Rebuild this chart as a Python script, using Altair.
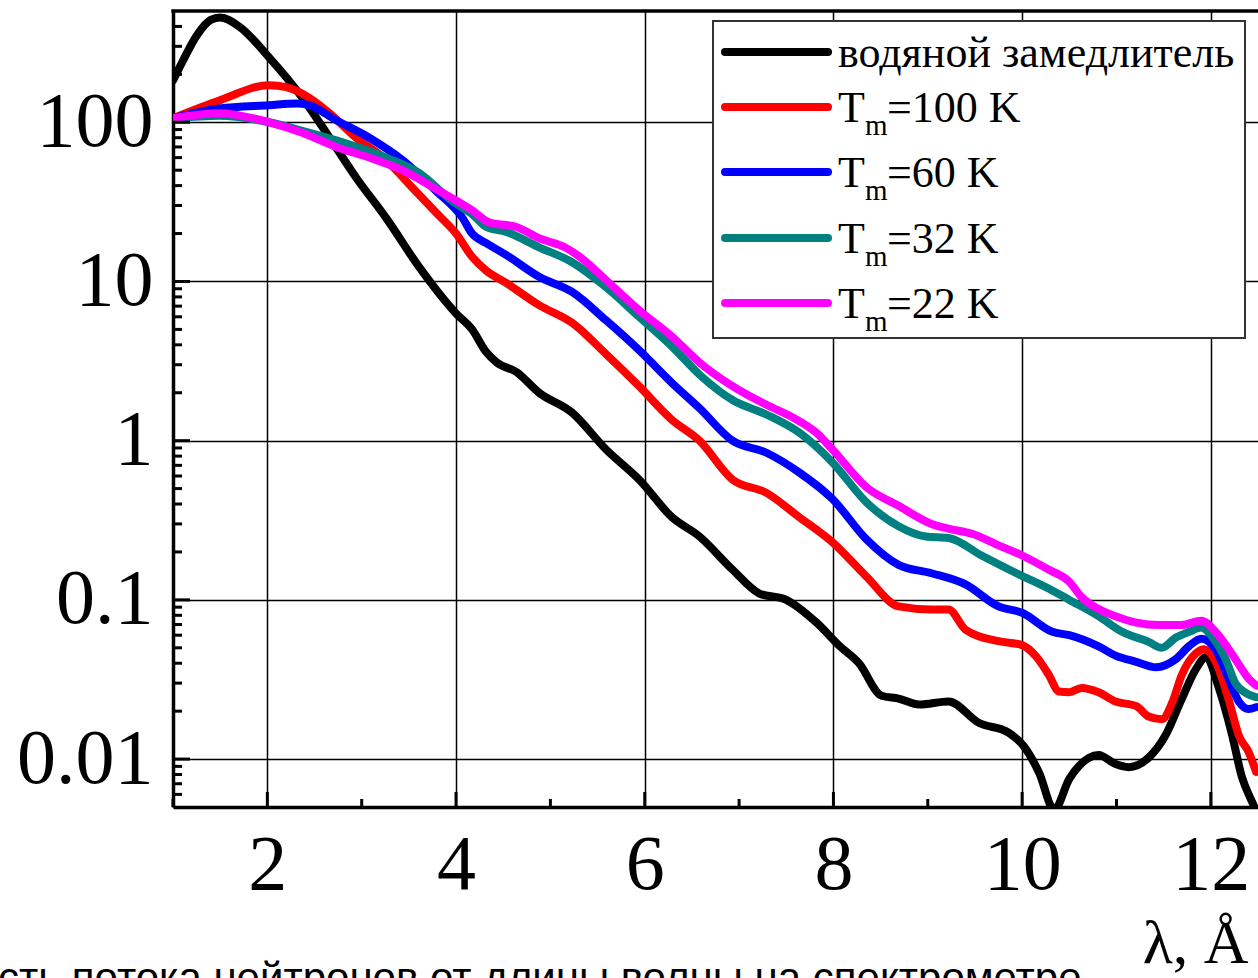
import altair as alt
import pandas as pd

# ---------------- data ----------------
series_names = ["водяной замедлитель", "Tm=100 K", "Tm=60 K", "Tm=32 K", "Tm=22 K"]
series_colors = ["#000000", "#ff0000", "#0000ff", "#008080", "#ff00ff"]

lam_water = [1.00, 1.10, 1.25, 1.40, 1.50, 1.70, 2.02, 2.37, 2.66, 2.94, 3.26, 3.61, 4.00, 4.17,
             4.32, 4.43, 4.64, 4.88, 5.23, 5.59, 5.94, 6.29, 6.58, 6.93, 7.21, 7.50, 7.82, 8.07,
             8.27, 8.51, 8.69, 8.91, 9.22, 9.54, 9.86, 10.02, 10.18, 10.34, 10.50, 10.71, 10.81,
             10.99, 11.13, 11.34, 11.52, 11.69, 11.84, 11.95, 12.08, 12.22, 12.33, 12.43, 12.50]
flux_water = [183, 240, 350, 440, 455, 400, 255, 143, 80, 45, 25, 12.3, 6.3, 5.0,
              3.6, 3.1, 2.7, 2.0, 1.5, 0.88, 0.57, 0.33, 0.25, 0.155, 0.11, 0.10, 0.072, 0.051,
              0.040, 0.025, 0.024, 0.022, 0.023, 0.0169, 0.0146, 0.012, 0.0082, 0.0048, 0.0075,
              0.0102, 0.0106, 0.0093, 0.0089, 0.0102, 0.0141, 0.0237, 0.0366, 0.0438, 0.0286,
              0.0146, 0.0077, 0.0055, 0.0045]

lam_100 = [1.00, 1.49, 2.02, 2.20, 2.44, 2.66, 2.94, 3.26, 3.50, 3.79, 4.00, 4.17, 4.32, 4.53,
           4.88, 5.23, 5.59, 5.94, 6.29, 6.58, 6.93, 7.29, 7.64, 7.99, 8.35, 8.69, 9.04, 9.22,
           9.40, 9.75, 10.00, 10.15, 10.28, 10.39, 10.50, 10.63, 10.81, 10.99, 11.21, 11.34,
           11.48, 11.59, 11.69, 11.84, 11.93, 12.05, 12.19, 12.30, 12.40, 12.48]
flux_100 = [106, 137, 171, 166, 143, 114, 80, 58, 41, 27, 20, 14.3, 11.7, 9.8,
            7.1, 5.5, 3.5, 2.2, 1.35, 1.0, 0.57, 0.47, 0.33, 0.23, 0.14, 0.091, 0.087, 0.087,
            0.065, 0.055, 0.052, 0.044, 0.034, 0.0266, 0.0263, 0.028, 0.0263, 0.023, 0.0215,
            0.0185, 0.0178, 0.0226, 0.0335, 0.046, 0.049, 0.041, 0.0235, 0.0139, 0.0111, 0.0083]

lam_60 = [1.00, 1.49, 2.02, 2.31, 2.44, 2.73, 3.08, 3.43, 3.79, 4.07, 4.17, 4.32, 4.53, 4.88,
          5.23, 5.59, 5.94, 6.29, 6.58, 6.93, 7.29, 7.64, 7.99, 8.35, 8.69, 9.04, 9.40, 9.75,
          10.00, 10.32, 10.50, 10.81, 10.99, 11.21, 11.42, 11.63, 11.77, 11.90, 12.05, 12.19,
          12.30, 12.40, 12.48]
flux_60 = [106, 122, 128, 131, 128, 103, 80, 58, 37, 25, 20, 17.4, 14.7, 10.7,
           8.6, 5.7, 3.7, 2.3, 1.6, 1.0, 0.84, 0.63, 0.43, 0.24, 0.166, 0.147, 0.125, 0.091,
           0.083, 0.063, 0.060, 0.051, 0.0447, 0.0408, 0.0377, 0.0425, 0.0513, 0.057, 0.049,
           0.0318, 0.0228, 0.0206, 0.0212]

lam_32 = [1.00, 1.49, 2.02, 2.44, 2.79, 3.26, 3.61, 3.96, 4.17, 4.32, 4.53, 4.88, 5.23, 5.59,
          5.94, 6.29, 6.58, 6.93, 7.29, 7.64, 7.99, 8.35, 8.69, 8.98, 9.22, 9.57, 9.93, 10.28,
          10.50, 10.81, 11.06, 11.34, 11.48, 11.63, 11.77, 11.90, 12.01, 12.16, 12.26, 12.37, 12.48]
flux_32 = [106, 110, 100, 86, 75, 60, 48, 32, 26.5, 22, 20.5, 16.4, 13.2, 9.2,
           6.0, 3.9, 2.6, 1.8, 1.46, 1.12, 0.73, 0.41, 0.29, 0.25, 0.245, 0.19, 0.148, 0.118,
           0.10, 0.079, 0.063, 0.0545, 0.050, 0.058, 0.063, 0.067, 0.059, 0.042, 0.030, 0.026, 0.0245]

lam_22 = [1.00, 1.49, 2.02, 2.37, 2.73, 3.08, 3.43, 3.79, 4.17, 4.35, 4.64, 4.88, 5.17, 5.31,
          5.59, 5.94, 6.29, 6.58, 6.93, 7.29, 7.56, 7.82, 7.99, 8.35, 8.69, 9.04, 9.22, 9.47,
          9.75, 10.00, 10.28, 10.50, 10.63, 10.81, 10.99, 11.21, 11.45, 11.69, 11.90, 12.05,
          12.19, 12.30, 12.40, 12.48]
flux_22 = [106, 114, 100, 86, 70, 60, 50, 38, 28, 23.5, 22, 18.7, 16.2, 14.3,
           10.2, 6.6, 4.5, 3.1, 2.2, 1.68, 1.41, 1.12, 0.88, 0.51, 0.39, 0.30, 0.28, 0.26,
           0.22, 0.19, 0.155, 0.13, 0.104, 0.0875, 0.079, 0.072, 0.0695, 0.0695, 0.074, 0.063,
           0.049, 0.039, 0.032, 0.029]

x_tick_labels = [2, 4, 6, 8, 10, 12]
x_minor_ticks = [1, 3, 5, 7, 9, 11]
y_tick_labels = [0.01, 0.1, 1, 10, 100]

legend_main = ["водяной замедлитель", "T", "T", "T", "T"]
legend_sub = ["", "m", "m", "m", "m"]
legend_rest = ["", "=100 K", "=60 K", "=32 K", "=22 K"]

x_title = "λ, Å"
caption = "сть потока нейтронов от длины волны на спектрометре"

# ---------------- layout / style ----------------
W, H = 1085, 796
SERIF = "Liberation Serif"
x_scale = alt.Scale(domain=[1, 12.5], nice=False, zero=False)
y_scale = alt.Scale(type="log", domain=[0.005, 500], nice=False)

y_minor_ticks = [k * d for d in [0.001, 0.01, 0.1, 1, 10, 100] for k in range(2, 10)
                 if 0.005 < k * d < 500]

x_axis = alt.Axis(values=x_tick_labels, format="d", labelFont=SERIF, labelFontSize=78,
                  labelColor="black", labelPadding=19, labelFlush=False, labelOverlap=False,
                  ticks=False, tickSize=0, domain=True, domainColor="black", domainWidth=3.5,
                  grid=True, gridColor="black", gridWidth=1.5, gridOpacity=1,
                  title=x_title, titleFont=SERIF, titleFontSize=62, titleFontWeight="normal",
                  titleColor="black", titleX=1075, titleY=155, titleAlign="right",
                  titleBaseline="alphabetic", titleAngle=0)
y_axis = alt.Axis(values=y_tick_labels, format="~g", labelFont=SERIF, labelFontSize=78,
                  labelColor="black", labelPadding=20, labelFlush=False, labelOverlap=False,
                  ticks=False, tickSize=0, domain=True, domainColor="black", domainWidth=3.5,
                  grid=True, gridColor="black", gridWidth=1.5, gridOpacity=1, title=None)

one = alt.Data(values=[{"a": 0}])

# axes + grid (drawn first, beneath the curves)
axes_layer = alt.Chart(pd.DataFrame({"lam": lam_water, "flux": flux_water})).mark_point(opacity=0).encode(
    x=alt.X("lam:Q", scale=x_scale, axis=x_axis),
    y=alt.Y("flux:Q", scale=y_scale, axis=y_axis),
)
layers = [axes_layer]


def curve(lams, vals, color):
    df = pd.DataFrame({"lam": lams, "flux": vals})
    return alt.Chart(df).mark_line(color=color, strokeWidth=8, clip=True,
                                   strokeJoin="round", strokeCap="round",
                                   interpolate="monotone").encode(
        x=alt.X("lam:Q", scale=x_scale, axis=None),
        y=alt.Y("flux:Q", scale=y_scale, axis=None),
    )


curves_data = [(lam_water, flux_water), (lam_100, flux_100), (lam_60, flux_60),
               (lam_32, flux_32), (lam_22, flux_22)]
for i, (lx, fy) in enumerate(curves_data):
    layers.append(curve(lx, fy, series_colors[i]))

# inward ticks
yt_major = alt.Chart(pd.DataFrame({"v": y_tick_labels})).mark_rule(color="black", strokeWidth=3).encode(
    y=alt.Y("v:Q", scale=y_scale, axis=None), x=alt.value(0), x2=alt.value(17))
yt_minor = alt.Chart(pd.DataFrame({"v": y_minor_ticks})).mark_rule(color="black", strokeWidth=3).encode(
    y=alt.Y("v:Q", scale=y_scale, axis=None), x=alt.value(0), x2=alt.value(9))
xt_major = alt.Chart(pd.DataFrame({"v": x_tick_labels})).mark_rule(color="black", strokeWidth=3).encode(
    x=alt.X("v:Q", scale=x_scale, axis=None), y=alt.value(H), y2=alt.value(H - 15))
xt_minor = alt.Chart(pd.DataFrame({"v": x_minor_ticks})).mark_rule(color="black", strokeWidth=3).encode(
    x=alt.X("v:Q", scale=x_scale, axis=None), y=alt.value(H), y2=alt.value(H - 8))
top_border = alt.Chart(one).mark_rule(color="black", strokeWidth=3.5).encode(
    x=alt.value(-1.75), x2=alt.value(W + 5), y=alt.value(0))
layers += [yt_major, yt_minor, xt_major, xt_minor, top_border]

# legend
layers.append(alt.Chart(one).mark_rect(fill="white", stroke="#333333", strokeWidth=2).encode(
    x=alt.value(540), x2=alt.value(1072), y=alt.value(10), y2=alt.value(327)))
line_y = [41, 96, 161, 227, 292]
for i in range(len(series_names)):
    layers.append(alt.Chart(one).mark_rule(color=series_colors[i], strokeWidth=8, strokeCap="round").encode(
        x=alt.value(552), x2=alt.value(655), y=alt.value(line_y[i])))
    base = line_y[i] + 15
    layers.append(alt.Chart(one).mark_text(text=legend_main[i], font=SERIF, fontSize=44, align="left",
                                           baseline="alphabetic", color="black").encode(
        x=alt.value(665), y=alt.value(base)))
    if legend_sub[i]:
        layers.append(alt.Chart(one).mark_text(text=legend_sub[i], font=SERIF, fontSize=29, align="left",
                                               baseline="alphabetic", color="black").encode(
            x=alt.value(692), y=alt.value(base + 13)))
        layers.append(alt.Chart(one).mark_text(text=legend_rest[i], font=SERIF, fontSize=44, align="left",
                                               baseline="alphabetic", color="black").encode(
            x=alt.value(714), y=alt.value(base)))

# caption cut at the bottom of the picture
layers.append(alt.Chart(one).mark_text(text=caption, font="Liberation Sans", fontSize=42, align="left",
                                       baseline="alphabetic", color="black").encode(
    x=alt.value(-175), y=alt.value(981)))

chart = alt.layer(*layers).resolve_axis(x="independent", y="independent").properties(
    width=W, height=H,
    autosize=alt.AutoSizeParams(type="none"),
    padding={"left": 173, "top": 11, "right": 0, "bottom": 171},
    background="white",
).configure_view(stroke=None)

chart.save("out.html", embed_options={"renderer": "svg", "actions": False})
